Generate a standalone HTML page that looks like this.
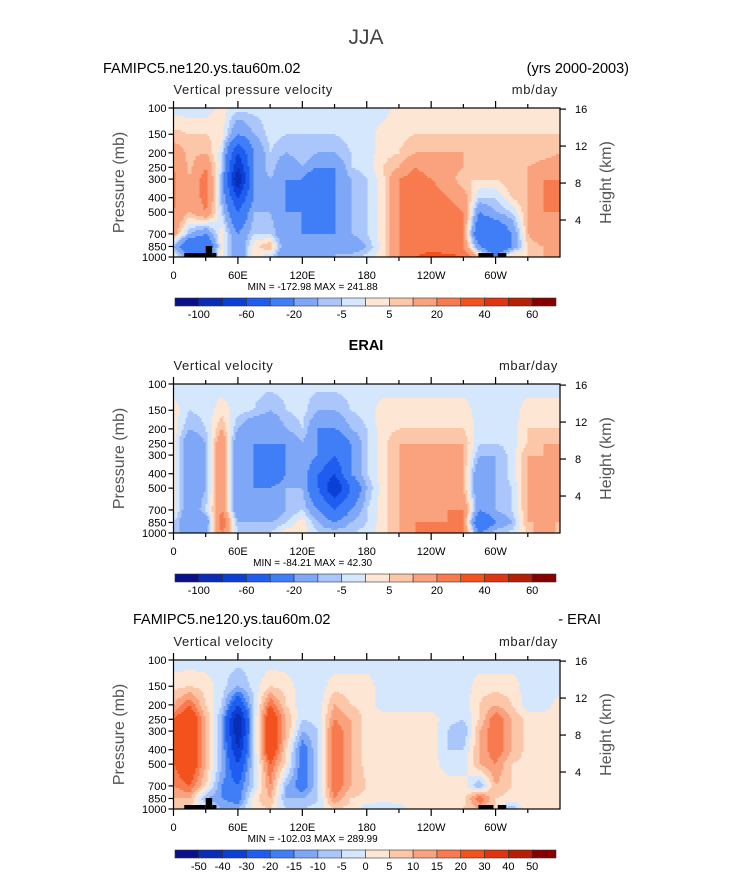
<!DOCTYPE html>
<html><head><meta charset="utf-8"><style>
html,body{margin:0;padding:0;background:#fff;}
svg{display:block;font-family:"Liberation Sans",sans-serif;}
</style></head><body>
<svg id="fig" width="733" height="888" viewBox="0 0 733 888" xmlns="http://www.w3.org/2000/svg">
<text x="366" y="44" text-anchor="middle" font-size="21" fill="#444">JJA</text>
</svg>
<script>
const lons = [0,15,30,45,60,75,90,105,120,135,150,165,180,195,210,225,240,255,270,285,300,315,330,345,360];
const levels = [100,150,200,250,300,400,500,700,850,1000];
const lonTickLabels = ["0","60E","120E","180","120W","60W"];
const lonTickValues = [0,60,120,180,240,300];
const pTickValues = [100,150,200,250,300,400,500,700,850,1000];
const hTickValues = [16,12,8,4];
const bounds12 = [-100,-80,-60,-40,-20,-10,-5,0,5,10,20,30,40,50,60];
const bounds3 = [-50,-40,-30,-20,-15,-10,-5,0,5,10,15,20,30,40,50];
const cbLabels12 = ["-100","","-60","","-20","","-5","","5","","20","","40","","60"];
const cbLabels3 = ["-50","-40","-30","-20","-15","-10","-5","0","5","10","15","20","30","40","50"];
const palette = ["#0a0f8a","#0a2db5","#0b3fd6","#1f5cf0","#3f7ef6","#7ea7f8","#aac6fa","#d5e7fc","#fde6d3","#fcc6a9","#faa27d","#f77b4e","#f4521c","#df3510","#b61e05","#870000"];

const p1Vals = [
[-3,7,15,20,22,22,20,15,-10,5],
[-3,5,8,8,10,10,10,-10,-40,-20],
[-3,5,10,20,25,25,20,-20,-40,-20],
[2,3,-3,-5,-10,-10,-5,3,3,3],
[-3,-20,-60,-80,-100,-60,-40,-20,-20,-20],
[-3,-10,-20,-20,-20,-20,-10,-5,3,3],
[-3,-3,-5,-5,-10,-20,-10,-5,10,-5],
[-3,-5,-10,-20,-20,-20,-20,-20,-20,-20],
[-3,-5,-5,-10,-20,-40,-20,-20,-20,-20],
[-3,-5,-10,-20,-40,-40,-40,-20,-20,-20],
[-3,-5,-10,-20,-20,-20,-20,-20,-10,-10],
[-3,-3,-5,-5,-10,-10,-10,-10,-20,-5],
[-3,-3,-3,-3,-5,-5,-5,-5,-10,-3],
[-3,3,3,5,3,3,3,3,3,3],
[3,3,5,10,20,20,20,20,20,20],
[3,5,10,20,25,25,25,25,25,30],
[3,5,10,15,20,25,25,25,25,35],
[3,5,10,15,15,20,25,25,20,35],
[3,5,10,10,5,15,20,20,20,30],
[3,5,5,5,5,-5,-20,-40,-20,10],
[3,5,5,5,5,-5,-10,-40,-40,-20],
[3,5,5,5,10,5,-5,-20,-20,10],
[3,5,5,10,10,10,10,10,5,5],
[3,5,5,15,20,20,20,20,10,10],
[3,5,10,20,20,20,20,15,10,10]
];
const p2Vals = [
[-3,3,3,3,3,3,3,3,-5,-5],
[-3,-5,-10,-20,-20,-20,-20,-20,-20,-20],
[-3,-3,-5,-10,-10,-10,-10,-5,-20,-10],
[-3,3,10,20,20,20,20,20,30,20],
[-3,-3,-10,-20,-20,-20,-20,-20,-10,-5],
[-3,-5,-20,-20,-20,-20,-20,-20,-10,-5],
[-3,-10,-20,-20,-40,-40,-20,-20,-10,-5],
[-3,-5,-10,-20,-20,-20,-10,-10,-5,3],
[-3,-3,-5,-10,-10,-10,-10,-5,3,3],
[-3,-10,-20,-20,-20,-40,-40,-20,-10,-5],
[-3,-10,-20,-40,-40,-60,-80,-40,-20,-5],
[-3,-5,-10,-20,-20,-20,-40,-20,-10,-5],
[-3,-3,-5,-5,-5,-5,-10,-5,-5,-3],
[-3,3,3,3,3,3,3,3,3,3],
[-3,3,5,10,10,10,10,10,10,10],
[-3,3,5,10,10,20,10,10,20,20],
[-3,3,5,10,10,20,10,10,20,20],
[-3,3,5,10,10,10,10,20,20,20],
[-3,3,5,10,10,10,10,20,20,20],
[-3,-3,-3,-5,-10,-20,-20,-20,-40,-20],
[-3,-3,-5,-5,-10,-10,-10,-10,-20,-5],
[-3,-3,-3,-3,-3,-3,-5,-5,-10,-3],
[-3,3,5,5,10,10,10,10,10,5],
[-3,3,5,10,10,10,10,10,10,20],
[-3,3,5,10,10,10,10,10,10,5]
];
const p3Vals = [
[-3,3,10,20,20,20,20,15,10,5],
[-3,5,20,30,30,30,30,20,10,5],
[-3,3,5,10,10,10,10,5,-10,0],
[-3,-3,-5,-10,-10,-10,-10,-15,-15,-10],
[-3,-10,-30,-50,-50,-40,-30,-20,-20,-10],
[-3,-3,-5,-5,-5,-5,-5,-5,3,3],
[-3,5,20,30,30,30,20,15,10,5],
[-3,3,5,10,10,5,3,-10,-10,-5],
[-3,-3,-3,-5,-10,-20,-20,-20,-10,-5],
[-3,-3,-3,-3,-5,-5,-5,-5,-5,-3],
[-3,3,10,15,20,20,20,20,15,5],
[-3,3,5,10,10,10,10,10,5,3],
[-3,3,3,3,3,3,3,5,3,-3],
[-3,-3,-3,3,3,3,3,3,3,-5],
[-3,-3,-3,3,3,5,3,3,3,-3],
[-3,-3,-3,3,5,5,3,3,3,3],
[-3,-3,-3,3,3,3,3,3,3,3],
[-3,-3,-3,-3,-5,-5,-3,3,3,3],
[-3,-3,-3,-5,-10,-5,-3,3,3,5],
[-3,3,5,5,10,10,10,-10,20,10],
[-3,3,10,20,20,20,15,10,5,5],
[-3,3,5,10,10,10,5,5,3,-10],
[-3,-3,-3,3,3,3,3,3,3,5],
[-3,-3,-3,3,3,3,3,3,3,3],
[-3,-3,3,3,3,3,5,3,3,3]
];
const landLon = [[10,30,4],[30,36,11],[36,40,4],[284,298,4],[302,310,4]];

const NS="http://www.w3.org/2000/svg";
const svg=document.getElementById('fig');
const X0=173.5, W=386.5;
function xS(lon){return X0+lon/360*W;}
function mk(tag,attrs,parent){const e=document.createElementNS(NS,tag);for(const k in attrs)e.setAttribute(k,attrs[k]);(parent||svg).appendChild(e);return e;}
function txt(s,x,y,size,anchor,fill,parent){const t=mk('text',{x:x,y:y,'font-size':size,'text-anchor':anchor||'start',fill:fill||'#000'},parent);t.textContent=s;return t;}

function valueAt(vals,lon,p){
  let fi=lon/15; let i=Math.min(Math.floor(fi),lons.length-2); let fx=fi-i;
  const lp=Math.log10(p); let j=0;
  while(j<levels.length-2 && Math.log10(levels[j+1])<lp) j++;
  const l0=Math.log10(levels[j]), l1=Math.log10(levels[j+1]);
  let fy=(lp-l0)/(l1-l0); fy=Math.max(0,Math.min(1,fy));
  const a=vals[i][j]*(1-fx)+vals[i+1][j]*fx;
  const b=vals[i][j+1]*(1-fx)+vals[i+1][j+1]*fx;
  return a*(1-fy)+b*fy;
}
function classOf(v,b){let k=0;while(k<b.length&&v>=b[k])k++;return k;}

function panel(opt){
  const Y0=opt.y0, H=149;
  const yS=p=>Y0+Math.log10(p/100)*H;
  const g=mk('g',{});
  
  
  const field=mk('g',{},g);
  
  
  const dx=2, dy=2, XE=X0+W;
  function flush(x0,x1,y,c){
    const r=mk('rect',{x:x0,y:y,width:x1-x0+0.5,height:Math.min(dy,Y0+H-y)+0.5,fill:palette[c]},field);
    
    
  }
  for(let y=Y0;y<Y0+H;y+=dy){
    const p=100*Math.pow(10,(y+dy/2-Y0)/H);
    let runStart=X0, runC=-1;
    for(let x=X0;x<XE;x+=dx){
      const lon=Math.min((x+dx/2-X0)/W*360,359.9);
      const c=classOf(valueAt(opt.vals,lon,p),opt.bounds);
      if(c!==runC){
        if(runC>=0) flush(runStart,x,y,runC);
        runStart=x; runC=c;
      }
    }
    if(runC>=0) flush(runStart,XE,y,runC);
  }
  if(opt.land){
    for(const L of landLon){
      const r=mk('rect',{x:xS(L[0]),y:Y0+H-L[2],width:xS(L[1])-xS(L[0]),height:L[2],fill:'#000'},g);
      
      
    }
  }
  const fr=mk('rect',{x:X0,y:Y0,width:W,height:H,fill:'none',stroke:'#000','stroke-width':1.2},g);
  
  
  for(let lon=0;lon<360;lon+=30){
    const major=lon%60===0, L=major?7:4, x=xS(lon);
    mk('line',{x1:x,x2:x,y1:Y0,y2:Y0-L,stroke:'#000','stroke-width':1.2},g);
    mk('line',{x1:x,x2:x,y1:Y0+H,y2:Y0+H+L,stroke:'#000','stroke-width':1.2},g);
  }
  lonTickValues.forEach((v,i)=>{const t=txt(lonTickLabels[i],xS(v),Y0+H+22,11,'middle','#000',g);
    
    });
  pTickValues.forEach(p=>{const y=yS(p);
    mk('line',{x1:X0,x2:X0-5,y1:y,y2:y,stroke:'#000','stroke-width':1.2},g);
    const t=txt(String(p),X0-7,y+4,11,'end','#000',g);
    
    });
  hTickValues.forEach(h=>{const y=yS(1000*Math.exp(-h/7.0));
    mk('line',{x1:X0+W,x2:X0+W+6,y1:y,y2:y,stroke:'#000','stroke-width':1.2},g);
    const t=txt(String(h),X0+W+15,y+4,11,'start','#000',g);
    
    });
  const yt=txt('Pressure (mb)',0,0,16,'middle','#555',g);
  yt.setAttribute('transform','translate(124,'+(Y0+H/2)+') rotate(-90)');
  
  
  const ht=txt('Height (km)',0,0,16,'middle','#555',g);
  ht.setAttribute('transform','translate(611,'+(Y0+H/2)+') rotate(-90)');
  
  
  const vt=txt(opt.varName,X0,Y0-14,13,'start','#222',g);
  vt.setAttribute('letter-spacing','0.6');
  
  
  const ut=txt(opt.units,X0+W-2,Y0-14,13,'end','#222',g);
  ut.setAttribute('letter-spacing','0.6');
  
  
  const mm=txt(opt.minmax,X0+W*0.36,Y0+H+33,10,'middle','#000',g);
  
  
  const cy=opt.cby, cw=(556-175)/16;
  const cb=mk('g',{},g);
  
  
  palette.forEach((c,i)=>{const r=mk('rect',{x:175+i*cw,y:cy,width:cw,height:8,fill:c,stroke:'#333','stroke-width':0.6},cb);
    
    });
  opt.cbLabels.forEach((s,i)=>{if(!s)return;const t=txt(s,175+(i+1)*cw,cy+20,11,'middle','#000',cb);
    
    });
}

function heading(s,x,y,anchor,name,bold){const t=txt(s,x,y,14.5,anchor,'#000');if(bold)t.setAttribute('font-weight','bold');
  
  }
heading('FAMIPC5.ne120.ys.tau60m.02',103,73,'start','panel1-case-title',false);
heading('(yrs 2000-2003)',629,73,'end','panel1-years',false);
heading('ERAI',366,350,'middle','panel2-title',true);
heading('FAMIPC5.ne120.ys.tau60m.02',133,624,'start','panel3-case-title',false);
heading('- ERAI',601,624,'end','panel3-minus-erai',false);

panel({name:'panel-model',y0:108,vals:p1Vals,bounds:bounds12,land:true,varName:'Vertical pressure velocity',units:'mb/day',minmax:'MIN = -172.98   MAX = 241.88',cby:298,cbLabels:cbLabels12});
panel({name:'panel-erai',y0:384,vals:p2Vals,bounds:bounds12,land:false,varName:'Vertical velocity',units:'mbar/day',minmax:'MIN = -84.21   MAX =  42.30',cby:574,cbLabels:cbLabels12});
panel({name:'panel-difference',y0:660,vals:p3Vals,bounds:bounds3,land:true,varName:'Vertical velocity',units:'mbar/day',minmax:'MIN = -102.03   MAX = 289.99',cby:850,cbLabels:cbLabels3});
</script>
</body></html>
